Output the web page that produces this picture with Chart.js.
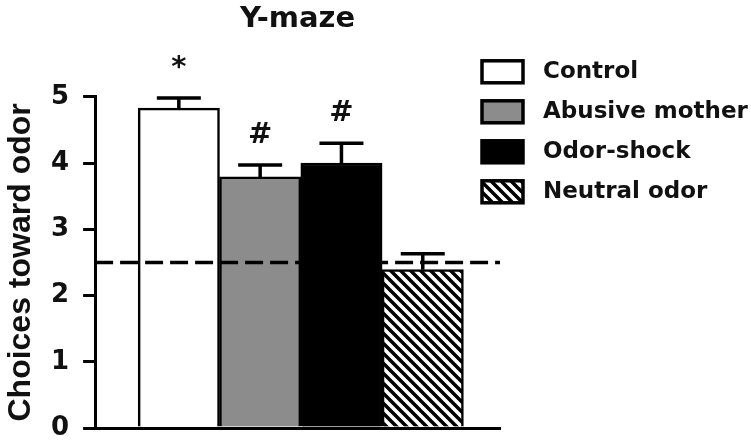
<!DOCTYPE html>
<html>
<head>
<meta charset="utf-8">
<script src="https://cdn.jsdelivr.net/npm/chart.js@4.4.1/dist/chart.umd.min.js"></script>
<style>
  html, body { margin: 0; padding: 0; background: #fff; }
</style>
</head>
<body>
<canvas id="ymazeChart" width="751" height="442"></canvas>
<script>
// Y-maze: choices toward odor per group
const groups = ['Control', 'Abusive mother', 'Odor-shock', 'Neutral odor'];
const positions = [1, 2, 3, 4];
const means = [4.83, 3.79, 4.0, 2.39];
const sems = [0.15, 0.18, 0.3, 0.24];
const marks = ['*', '#', '#', ''];
const chanceLevel = 2.5;
const yTicks = [0, 1, 2, 3, 4, 5];
const xRange = [-0.03, 4.95];

// diagonal hatch for the neutral odor group
function makeHatch() {
    const c = document.createElement('canvas');
    c.width = 10; c.height = 10;
    const g = c.getContext('2d');
    g.fillStyle = '#fff';
    g.fillRect(0, 0, 10, 10);
    g.strokeStyle = '#000';
    g.lineWidth = 3.5;
    g.beginPath();
    g.moveTo(-2, -2); g.lineTo(12, 12);
    g.moveTo(-2, 8); g.lineTo(2, 12);
    g.moveTo(8, -2); g.lineTo(12, 2);
    g.stroke();
    return g.createPattern(c, 'repeat');
}
const fills = ['#ffffff', '#8c8c8c', '#000000', makeHatch()];

Chart.defaults.font.family = "'DejaVu Sans', sans-serif";

// error bars + significance marks
const errorBars = {
    id: 'errorBars',
    afterDatasetsDraw(chart) {
        const ctx = chart.ctx;
        const xs = chart.scales.x, ys = chart.scales.y;
        ctx.save();
        ctx.strokeStyle = '#000';
        ctx.lineWidth = 3.5;
        ctx.fillStyle = '#111';
        ctx.font = "bold 29px 'DejaVu Sans'";
        ctx.textAlign = 'center';
        ctx.textBaseline = 'alphabetic';
        positions.forEach((p, i) => {
            const x = xs.getPixelForValue(p);
            const y0 = ys.getPixelForValue(means[i]);
            const y1 = ys.getPixelForValue(means[i] + sems[i]);
            ctx.beginPath();
            ctx.moveTo(x, y0); ctx.lineTo(x, y1);
            ctx.moveTo(x - 22, y1); ctx.lineTo(x + 22, y1);
            ctx.stroke();
            if (marks[i]) ctx.fillText(marks[i], x, y1 - 22);
        });
        ctx.restore();
    }
};

// legend drawn beside the plot
const sideLegend = {
    id: 'sideLegend',
    afterDraw(chart) {
        const ctx = chart.ctx;
        const area = chart.chartArea;
        const left = area.right - 18;
        const top = area.top - 25;
        ctx.save();
        ctx.font = "bold 23px 'DejaVu Sans'";
        ctx.textBaseline = 'middle';
        ctx.textAlign = 'left';
        groups.forEach((name, i) => {
            const cy = top + i * 40;
            ctx.fillStyle = fills[i];
            ctx.fillRect(left, cy - 11, 41, 22);
            ctx.strokeStyle = '#000';
            ctx.lineWidth = 3.5;
            ctx.strokeRect(left, cy - 11, 41, 22);
            ctx.fillStyle = '#111';
            ctx.fillText(name, left + 61, cy);
        });
        ctx.restore();
    }
};

const ctx = document.getElementById('ymazeChart').getContext('2d');
new Chart(ctx, {
    data: {
        datasets: [{
            type: 'line',
            label: 'Chance',
            data: [{x: xRange[0], y: chanceLevel}, {x: xRange[1], y: chanceLevel}],
            borderColor: '#000',
            borderWidth: 3.5,
            borderDash: [18, 7],
            pointRadius: 0,
            fill: false,
            order: 0
        }, {
            type: 'bar',
            label: 'Choices toward odor',
            data: positions.map((x, i) => ({x: x, y: means[i]})),
            backgroundColor: fills,
            borderColor: '#000',
            borderWidth: 2.5,
            barPercentage: 1,
            categoryPercentage: 1,
            order: 1
        }]
    },
    options: {
        responsive: false,
        animation: false,
        layout: { padding: { left: 4, right: 251, top: 0, bottom: 0 } },
        plugins: {
            legend: { display: false },
            tooltip: { enabled: false },
            title: {
                display: true,
                text: 'Y-maze',
                fullSize: false,
                color: '#111',
                font: { size: 29, weight: 'bold' },
                padding: { top: 2, bottom: 60 }
            }
        },
        scales: {
            x: {
                type: 'linear',
                offset: false,
                min: xRange[0],
                max: xRange[1],
                afterBuildTicks: ax => { ax.ticks = positions.map(v => ({value: v})); },
                ticks: { display: false },
                grid: { display: false, drawTicks: false },
                border: { display: true, color: '#000', width: 3 }
            },
            y: {
                min: 0,
                max: 5,
                afterBuildTicks: ax => { ax.ticks = yTicks.map(v => ({value: v})); },
                ticks: {
                    padding: 14,
                    color: '#111',
                    font: { size: 26, weight: 'bold', lineHeight: 0 }
                },
                grid: { drawOnChartArea: false, tickLength: 12, lineWidth: 3, color: '#000' },
                border: { color: '#000', width: 3 },
                title: {
                    display: true,
                    text: 'Choices toward odor',
                    color: '#111',
                    font: { family: "'Liberation Sans'", size: 32, weight: 'bold', lineHeight: 0.75 },
                    padding: { top: 5, bottom: 4 }
                }
            }
        }
    },
    plugins: [errorBars, sideLegend]
});
</script>
</body>
</html>
